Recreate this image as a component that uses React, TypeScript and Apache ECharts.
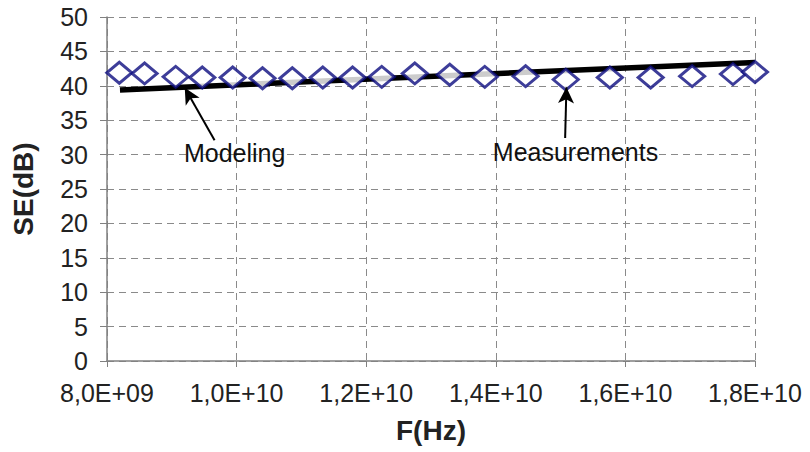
import React, { useEffect, useRef } from "react";
import * as echarts from "echarts";

const freqHz = [
  8.19e9, 8.58e9, 9.06e9, 9.47e9, 9.94e9, 10.4e9, 10.86e9, 11.33e9, 11.79e9, 12.24e9,
  12.75e9, 13.29e9, 13.83e9, 14.46e9, 15.08e9, 15.76e9, 16.39e9, 17.03e9, 17.66e9, 18.0e9,
];
const measuredSE = [
  41.9, 41.8, 41.3, 41.2, 41.2, 41.1, 41.1, 41.2, 41.2, 41.3,
  41.8, 41.6, 41.3, 41.4, 40.9, 41.2, 41.2, 41.4, 41.7, 42.0,
];
const modelFreqHz = [8.2e9, 1.8e10];
const modelSE = [39.4, 43.4];

const annotTexts = ["Modeling", "Measurements"];
const annotTextPos = [
  [9.97e9, 30.2],
  [15.23e9, 30.4],
];
const arrowFrom = [
  [9.66e9, 32.1],
  [15.07e9, 32.4],
];
const arrowTo = [
  [9.2e9, 39.7],
  [15.09e9, 39.8],
];

function fmtSci(v: number): string {
  const e = Math.floor(Math.log10(v) + 1e-9);
  const m = v / Math.pow(10, e);
  return m.toFixed(1).replace(".", ",") + "E+" + String(e).padStart(2, "0");
}

const FONT = "Liberation Sans, Arial, sans-serif";

export default function App() {
  const ref = useRef<HTMLDivElement>(null);
  useEffect(() => {
    if (!ref.current) return;
    const chart = echarts.init(ref.current, undefined, { renderer: "svg" });
    const gridLine = { show: true, lineStyle: { color: "#8a8a8a", type: [7, 5] as any, width: 1 } };
    chart.setOption({
      animation: false,
      backgroundColor: "#ffffff",
      textStyle: { fontFamily: FONT },
      grid: { left: 107, right: 55, top: 17, bottom: 91, containLabel: false },
      xAxis: {
        type: "value",
        min: 8e9,
        max: 1.8e10,
        interval: 2e9,
        name: "F(Hz)",
        nameLocation: "middle",
        nameGap: 55,
        nameTextStyle: { fontFamily: FONT, fontSize: 28, fontWeight: "bold", color: "#222" },
        axisLine: { show: true, lineStyle: { color: "#808080", width: 1.5 } },
        axisTick: { show: true, inside: false, length: 6, lineStyle: { color: "#808080" } },
        axisLabel: { fontFamily: FONT, fontSize: 25, color: "#222", margin: 19, formatter: (v: number) => fmtSci(v) },
        splitLine: gridLine,
      },
      yAxis: {
        type: "value",
        min: 0,
        max: 50,
        interval: 5,
        name: "SE(dB)",
        nameLocation: "middle",
        nameGap: 70,
        nameTextStyle: { fontFamily: FONT, fontSize: 28, fontWeight: "bold", color: "#222" },
        axisLine: { show: true, lineStyle: { color: "#808080", width: 1.5 } },
        axisTick: { show: true, inside: false, length: 7, lineStyle: { color: "#808080" } },
        axisLabel: { fontFamily: FONT, fontSize: 25, color: "#222", margin: 19 },
        splitLine: gridLine,
      },
      series: [
        {
          name: "Modeling",
          type: "line",
          data: modelFreqHz.map((f, i) => [f, modelSE[i]]),
          showSymbol: false,
          lineStyle: { color: "#000", width: 5.5 },
          z: 2,
          markLine: {
            silent: true,
            symbol: ["none", "arrow"],
            symbolSize: [12, 16],
            lineStyle: { color: "#000", width: 2, type: "solid" },
            label: { show: false },
            data: arrowFrom.map((p, i) => [
              { coord: p },
              { coord: arrowTo[i] },
            ]),
          },
          markPoint: {
            silent: true,
            symbol: "circle",
            symbolSize: 1,
            itemStyle: { color: "rgba(0,0,0,0)" },
            label: {
              show: true,
              position: "inside",
              fontFamily: FONT,
              fontSize: 25,
              color: "#111",
              formatter: (p: any) => p.name,
            },
            data: annotTexts.map((t, i) => ({ name: t, coord: annotTextPos[i] })),
          },
        },
        {
          name: "Measurements",
          type: "scatter",
          data: freqHz.map((f, i) => [f, measuredSE[i]]),
          symbol: "diamond",
          symbolSize: [25, 21],
          itemStyle: { color: "#ffffff", borderColor: "#0c0c80", borderWidth: 3 },
          z: 3,
        },
      ],
    });
    return () => chart.dispose();
  }, []);
  return (
    <div
      ref={ref}
      style={{ position: "fixed", left: 0, top: 0, width: 810, height: 452, background: "#fff" }}
    />
  );
}
